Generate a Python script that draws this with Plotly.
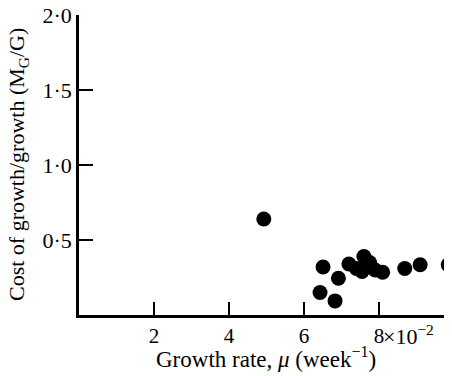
import plotly.graph_objects as go

growth_rate = [4.93, 6.43, 6.51, 6.83, 6.92, 7.2, 7.4, 7.6, 7.75, 7.55, 7.9, 8.1, 8.69, 9.1, 9.85]
cost_ratio = [0.64, 0.15, 0.32, 0.094, 0.245, 0.34, 0.31, 0.39, 0.35, 0.29, 0.30, 0.285, 0.31, 0.335, 0.335]

x_ticks = [2, 4, 6, 8]
x_ticklabels = ["2", "4", "6", "8"]
y_ticks = [0.5, 1.0, 1.5, 2.0]
y_ticklabels = ["0·5", "1·0", "1·5", "2·0"]

FONT = "Liberation Serif, Times New Roman, serif"

fig = go.Figure()
fig.add_trace(go.Scatter(
    x=growth_rate, y=cost_ratio, mode="markers",
    marker=dict(size=15, color="black", line=dict(width=0)),
    cliponaxis=False, showlegend=False,
))

# page body has an 8px default margin; size the figure to compensate
fig.update_layout(
    width=444, height=368,
    margin=dict(l=71, r=0, t=7, b=61),
    paper_bgcolor="white", plot_bgcolor="white",
    font=dict(family=FONT, size=22, color="black"),
    xaxis=dict(
        range=[0, 9.95], showgrid=False, zeroline=False,
        showline=True, linecolor="black", linewidth=2.5,
        tickmode="array", tickvals=x_ticks, ticktext=x_ticklabels,
        ticks="inside", ticklen=13, tickwidth=2, tickcolor="black",
        tickfont=dict(family=FONT, size=21), automargin=False,
        ticklabeloverflow="allow",
    ),
    yaxis=dict(
        range=[0, 2.0], showgrid=False, zeroline=False,
        showline=True, linecolor="black", linewidth=2.5,
        tickmode="array", tickvals=y_ticks, ticktext=y_ticklabels,
        ticks="inside", ticklen=14, tickwidth=2, tickcolor="black",
        tickfont=dict(family=FONT, size=22), automargin=False,
        ticklabeloverflow="allow",
    ),
    annotations=[
        dict(text="×10<sup>−2</sup>", x=8, y=0, xref="x", yref="y",
             xanchor="left", yanchor="top", xshift=2, yshift=-4,
             showarrow=False, font=dict(family=FONT, size=22)),
        dict(text="Growth rate, <i>μ</i> (week<sup>−1</sup>)", x=0.5, y=-0.14,
             xref="paper", yref="paper", xanchor="center", yanchor="middle",
             showarrow=False, font=dict(family=FONT, size=23)),
        dict(text="Cost of growth/growth (M<sub>G</sub>/G)", x=-0.1635, y=0.5,
             xref="paper", yref="paper", xanchor="center", yanchor="middle",
             textangle=-90, showarrow=False, font=dict(family=FONT, size=22)),
    ],
)

fig.write_html("out.html")
